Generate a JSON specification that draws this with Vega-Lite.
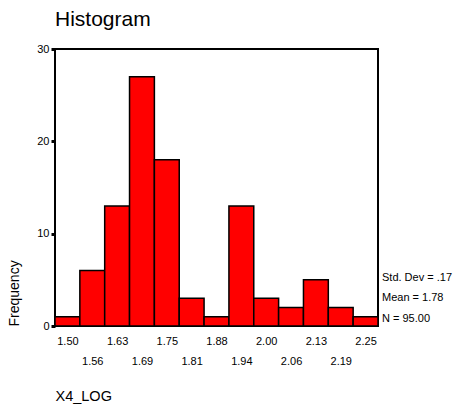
{
  "$schema": "https://vega.github.io/schema/vega-lite/v6.json",
  "width": 323,
  "height": 277,
  "autosize": {"type": "none"},
  "padding": {"left": 55, "top": 49, "right": 79, "bottom": 78},
  "background": "white",
  "config": {
    "font": "Liberation Sans",
    "view": {"stroke": "black", "strokeWidth": 2},
    "axis": {"labelColor": "black", "titleColor": "black", "labelFont": "Liberation Sans", "titleFont": "Liberation Sans"}
  },
  "title": {
    "text": "Histogram",
    "anchor": "start",
    "frame": "group",
    "fontSize": 21,
    "fontWeight": "normal",
    "color": "black",
    "baseline": "alphabetic",
    "offset": 16,
    "dy": 20
  },
  "datasets": {
    "bins": [
      {"start": 1.46875, "end": 1.53125, "count": 1},
      {"start": 1.53125, "end": 1.59375, "count": 6},
      {"start": 1.59375, "end": 1.65625, "count": 13},
      {"start": 1.65625, "end": 1.71875, "count": 27},
      {"start": 1.71875, "end": 1.78125, "count": 18},
      {"start": 1.78125, "end": 1.84375, "count": 3},
      {"start": 1.84375, "end": 1.90625, "count": 1},
      {"start": 1.90625, "end": 1.96875, "count": 13},
      {"start": 1.96875, "end": 2.03125, "count": 3},
      {"start": 2.03125, "end": 2.09375, "count": 2},
      {"start": 2.09375, "end": 2.15625, "count": 5},
      {"start": 2.15625, "end": 2.21875, "count": 2},
      {"start": 2.21875, "end": 2.28125, "count": 1}
    ],
    "stats": [
      {"stats": ["Std. Dev = .17", "Mean = 1.78", "N = 95.00"]}
    ]
  },
  "resolve": {"axis": {"x": "independent"}},
  "layer": [
    {
      "data": {"name": "bins"},
      "mark": {"type": "bar", "color": "#ff0000", "stroke": "black", "strokeWidth": 1.5},
      "encoding": {
        "x": {
          "field": "start",
          "type": "quantitative",
          "scale": {"domain": [1.46875, 2.28125], "nice": false, "zero": false},
          "axis": {
            "orient": "bottom",
            "title": "X4_LOG",
            "values": [1.5, 1.625, 1.75, 1.875, 2.0, 2.125, 2.25],
            "format": ".2f",
            "ticks": false,
            "tickSize": 0,
            "domain": false,
            "grid": false,
            "labelFontSize": 11,
            "labelPadding": 9,
            "labelBaseline": "top",
            "labelOverlap": false,
            "labelFlush": false,
            "labelBound": false,
            "titleX": 0,
            "titleY": 74,
            "titleAlign": "left",
            "titleAnchor": null,
            "titleBaseline": "alphabetic",
            "titleFontSize": 14.5,
            "titleFontWeight": "normal"
          }
        },
        "x2": {"field": "end"},
        "y": {
          "field": "count",
          "type": "quantitative",
          "scale": {"domain": [0, 30], "nice": false},
          "axis": {
            "title": "Frequency",
            "values": [0, 10, 20, 30],
            "tickSize": 4,
            "tickWidth": 3,
            "tickColor": "black",
            "domain": false,
            "grid": false,
            "labelFontSize": 11,
            "labelPadding": 2,
            "titleFontSize": 14,
            "titleFontWeight": "normal",
            "titleX": -37,
            "titleY": 277,
            "titleAlign": "left",
            "titleBaseline": "alphabetic",
            "titleAngle": 270
          }
        },
        "y2": {"datum": 0}
      }
    },
    {
      "data": {"name": "bins"},
      "mark": {"type": "bar", "opacity": 0},
      "encoding": {
        "x": {
          "field": "start",
          "type": "quantitative",
          "axis": {
            "orient": "bottom",
            "title": null,
            "values": [1.5625, 1.6875, 1.8125, 1.9375, 2.0625, 2.1875],
            "format": ".2f",
            "ticks": false,
            "tickSize": 0,
            "domain": false,
            "grid": false,
            "labelFontSize": 11,
            "labelPadding": 29,
            "labelBaseline": "top",
            "labelOverlap": false,
            "labelFlush": false,
            "labelBound": false
          }
        },
        "x2": {"field": "end"},
        "y": {"field": "count", "type": "quantitative"},
        "y2": {"datum": 0}
      }
    },
    {
      "data": {"name": "stats"},
      "mark": {"type": "text", "align": "left", "baseline": "top", "fontSize": 11, "lineHeight": 20.5, "dx": 4, "color": "black"},
      "encoding": {
        "x": {"datum": 2.28125, "axis": null},
        "y": {"datum": 5.85},
        "text": {"field": "stats", "type": "nominal"}
      }
    }
  ]
}
